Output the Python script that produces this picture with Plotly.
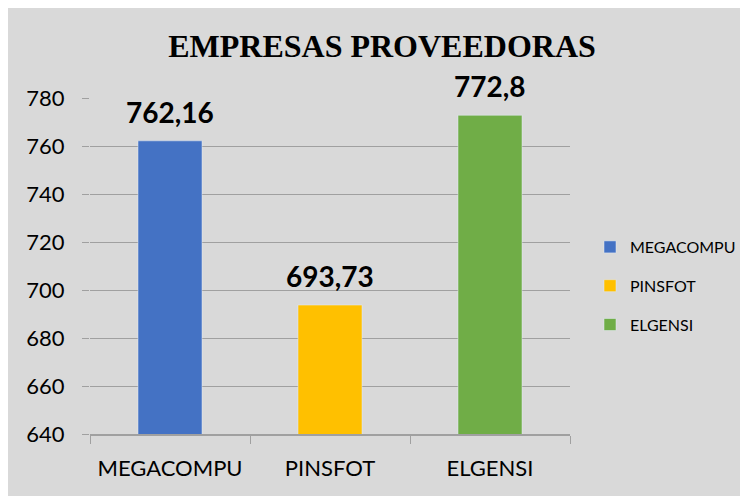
import plotly.graph_objects as go

categories = ["MEGACOMPU", "PINSFOT", "ELGENSI"]
values = [762.16, 693.73, 772.8]
colors = ["#4472C4", "#FFC000", "#70AD47"]
y_ticks = [640, 660, 680, 700, 720, 740, 760, 780]

OFF = 8  # page body offset
W, H = 748, 496
L, T = 90 - OFF, 98 - OFF
pw, ph = 480, 336
R, B = W - L - pw, H - T - ph

def px_x(p):
    return (p - OFF - L) / pw

def px_y(p):
    return (T + ph - (p - OFF)) / ph

fig = go.Figure()
for i, (c, v, col) in enumerate(zip(categories, values, colors)):
    fig.add_trace(go.Bar(x=[c], y=[v], name=c, marker_color=col, width=0.4,
                         legendgroup=f"g{i}"))
    fig.add_annotation(x=c, y=v, text=f"<b>{v:g}</b>".replace(".", ","),
                       showarrow=False, yanchor="bottom", yshift=10,
                       font=dict(family="Lato", size=28, color="#000000"))

fig.add_shape(type="rect", xref="paper", yref="paper",
              x0=px_x(7), x1=px_x(770), y0=px_y(520), y1=px_y(7),
              fillcolor="#D9D9D9", line=dict(color="#BDBDBD", width=1.5), layer="below")

fig.update_layout(
    width=W, height=H,
    margin=dict(l=L, r=R, t=T, b=B),
    paper_bgcolor="white",
    plot_bgcolor="rgba(0,0,0,0)",
    barmode="overlay",
    title=dict(text="<b>EMPRESAS PROVEEDORAS</b>", xref="container",
               x=(382 - OFF) / W, xanchor="center",
               y=1 - (46 - OFF) / H, yanchor="middle",
               font=dict(family="Liberation Serif", size=32, color="#000000")),
    legend=dict(x=px_x(590), y=px_y(230), xanchor="left", yanchor="top",
                bgcolor="rgba(0,0,0,0)", tracegroupgap=15, traceorder="grouped",
                font=dict(family="Lato", size=16, color="#000000")),
    xaxis=dict(showgrid=False, showline=True, linecolor="#A0A0A0", linewidth=1.5,
               ticks="outside", tickson="boundaries", ticklen=8, tickcolor="#A0A0A0",
               ticklabelstandoff=14, tickangle=0, automargin=False,
               tickfont=dict(family="Lato", size=22, color="#000000")),
    yaxis=dict(range=[640, 780], tickvals=y_ticks, showgrid=True, gridcolor="#A0A0A0",
               gridwidth=1, zeroline=False, showline=False, ticks="outside", ticklen=7,
               tickcolor="#A0A0A0", ticklabelstandoff=13, automargin=False,
               tickfont=dict(family="Lato", size=22, color="#000000")),
)

fig.write_html("out.html")
